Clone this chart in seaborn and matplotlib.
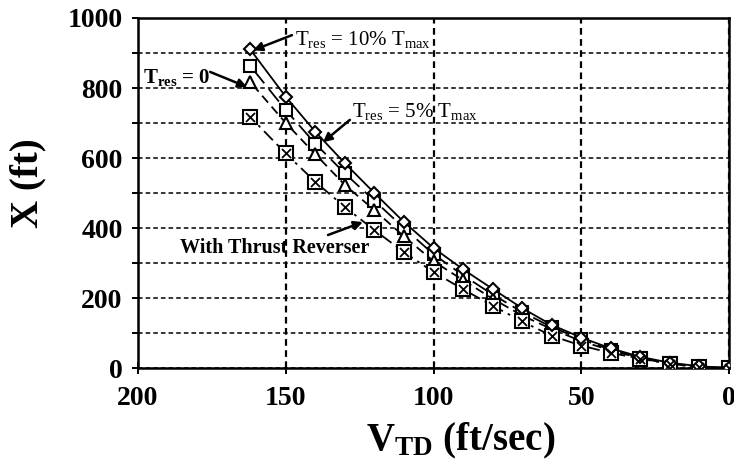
import matplotlib
matplotlib.use("Agg")
import matplotlib.pyplot as plt
import seaborn as sns
import numpy as np
from matplotlib.ticker import MultipleLocator, FixedLocator

# ---------------- data ----------------
v_td = [162, 150, 140, 130, 120, 110, 100, 90, 80, 70, 60, 50, 40, 30, 20, 10, 0]
x_res10 = [910, 775, 675, 585, 500, 417, 343, 282, 226, 171, 123, 87, 56, 32, 15, 5, 0]
x_res5 = [863, 737, 641, 556, 478, 400, 325, 265, 210, 160, 117, 82, 52, 30, 13, 4, 0]
x_res0 = [817, 700, 611, 523, 451, 376, 305, 251, 198, 150, 111, 77, 50, 28, 12, 3, 0]
x_rev = [717, 613, 532, 460, 394, 331, 274, 225, 178, 133, 92, 64, 43, 27, 11, 3, 0]

x_ticks = [200, 150, 100, 50, 0]
y_ticks = [0, 200, 400, 600, 800, 1000]

sns.set_theme(style="white")
plt.rcParams["font.family"] = ["Liberation Serif", "DejaVu Serif"]
plt.rcParams["mathtext.fontset"] = "custom"
plt.rcParams["mathtext.rm"] = "Liberation Serif"
plt.rcParams["mathtext.it"] = "Liberation Serif:italic"
plt.rcParams["mathtext.bf"] = "Liberation Serif:bold"

fig = plt.figure(figsize=(7.34, 4.62), dpi=100)
ax = fig.add_axes([138 / 734, 1 - 368 / 462, (729 - 138) / 734, 350 / 462])
ax.set_facecolor("white")

# grid
ax.set_xlim(200, 0)
ax.set_ylim(0, 1000)
ax.xaxis.set_major_locator(FixedLocator(x_ticks))
ax.yaxis.set_major_locator(FixedLocator(y_ticks))
ax.yaxis.set_minor_locator(MultipleLocator(100))
ax.grid(which="both", axis="y", color="black", linestyle=(0, (3, 2)), linewidth=1.1, zorder=0)
ax.grid(which="major", axis="x", color="black", linestyle=(0, (3, 2)), linewidth=1.6, zorder=0)
ax.set_axisbelow(True)

lw = 1.3
mew = 1.5
sns.lineplot(x=v_td, y=x_res10, ax=ax, color="black", lw=lw, linestyle="-",
             marker="D", markersize=6.5, markerfacecolor="white",
             markeredgecolor="black", markeredgewidth=mew, zorder=4)
sns.lineplot(x=v_td, y=x_res5, ax=ax, color="black", lw=lw, linestyle=(0, (9, 4)),
             marker="s", markersize=8.5, markerfacecolor="white",
             markeredgecolor="black", markeredgewidth=mew, zorder=3)
sns.lineplot(x=v_td, y=x_res0, ax=ax, color="black", lw=lw, linestyle=(0, (5, 3)),
             marker="^", markersize=8, markerfacecolor="white",
             markeredgecolor="black", markeredgewidth=mew, zorder=3)
sns.lineplot(x=v_td, y=x_rev, ax=ax, color="black", lw=lw, linestyle=(0, (7, 3, 1.5, 3)),
             marker="s", markersize=9.5, markerfacecolor="white",
             markeredgecolor="black", markeredgewidth=mew, zorder=3)
sns.scatterplot(x=v_td, y=x_rev, ax=ax, marker="x", s=42, color="black",
                linewidth=1.3, zorder=5)

# spines & ticks
for sp in ax.spines.values():
    sp.set_visible(True)
    sp.set_color("black")
    sp.set_linewidth(1.8)

ax.tick_params(axis="y", which="both", direction="out", length=4, width=1.4,
               color="black", left=True, pad=7)
ax.tick_params(axis="x", which="major", direction="inout", length=8, width=1.4,
               color="black", bottom=True, pad=9)
ax.set_xticklabels([str(t) for t in x_ticks])
ax.set_yticklabels([str(t) for t in y_ticks])
for lab in ax.get_xticklabels() + ax.get_yticklabels():
    lab.set_fontsize(20)
    lab.set_fontweight("bold")
    lab.set_color("black")

ax.set_xlabel("")
ax.set_ylabel("")
fig.text(461 / 734, 1 - 450 / 462, r"$\mathbf{V_{TD}}$ (ft/sec)", fontsize=28,
         fontweight="bold", ha="center", va="baseline", color="black")
fig.text(28 / 734, 1 - 183 / 462, "X (ft)", fontsize=28, fontweight="bold",
         rotation=90, ha="center", va="center", color="black")

# annotations
arrow_kw = dict(arrowstyle="-|>", color="black", lw=1.8, mutation_scale=13,
                shrinkA=0, shrinkB=0)
ax.text(146.9, 923, r"T$_{\rm res}$ = 10% T$_{\rm max}$", fontsize=15,
        ha="left", va="baseline", color="black", zorder=6)
ax.annotate("", xy=(161.0, 908), xytext=(147.9, 951), arrowprops=arrow_kw, zorder=6)

ax.text(198.3, 814, r"T$_{\mathbf{res}}$ = 0", fontsize=15, fontweight="bold",
        ha="left", va="baseline", color="black", zorder=6)
ax.annotate("", xy=(163.1, 803), xytext=(175.6, 846), arrowprops=arrow_kw, zorder=6)

ax.text(127.6, 717, r"T$_{\rm res}$ = 5% T$_{\rm max}$", fontsize=15,
        ha="left", va="baseline", color="black", zorder=6)
ax.annotate("", xy=(137.4, 645), xytext=(128.3, 709), arrowprops=arrow_kw, zorder=6)

ax.text(185.8, 329, "With Thrust Reverser", fontsize=14.5, fontweight="bold",
        ha="left", va="baseline", color="black", zorder=6)
ax.annotate("", xy=(123.9, 417), xytext=(135.7, 380), arrowprops=arrow_kw, zorder=6)

fig.savefig("out.png", dpi=100, facecolor="white")
